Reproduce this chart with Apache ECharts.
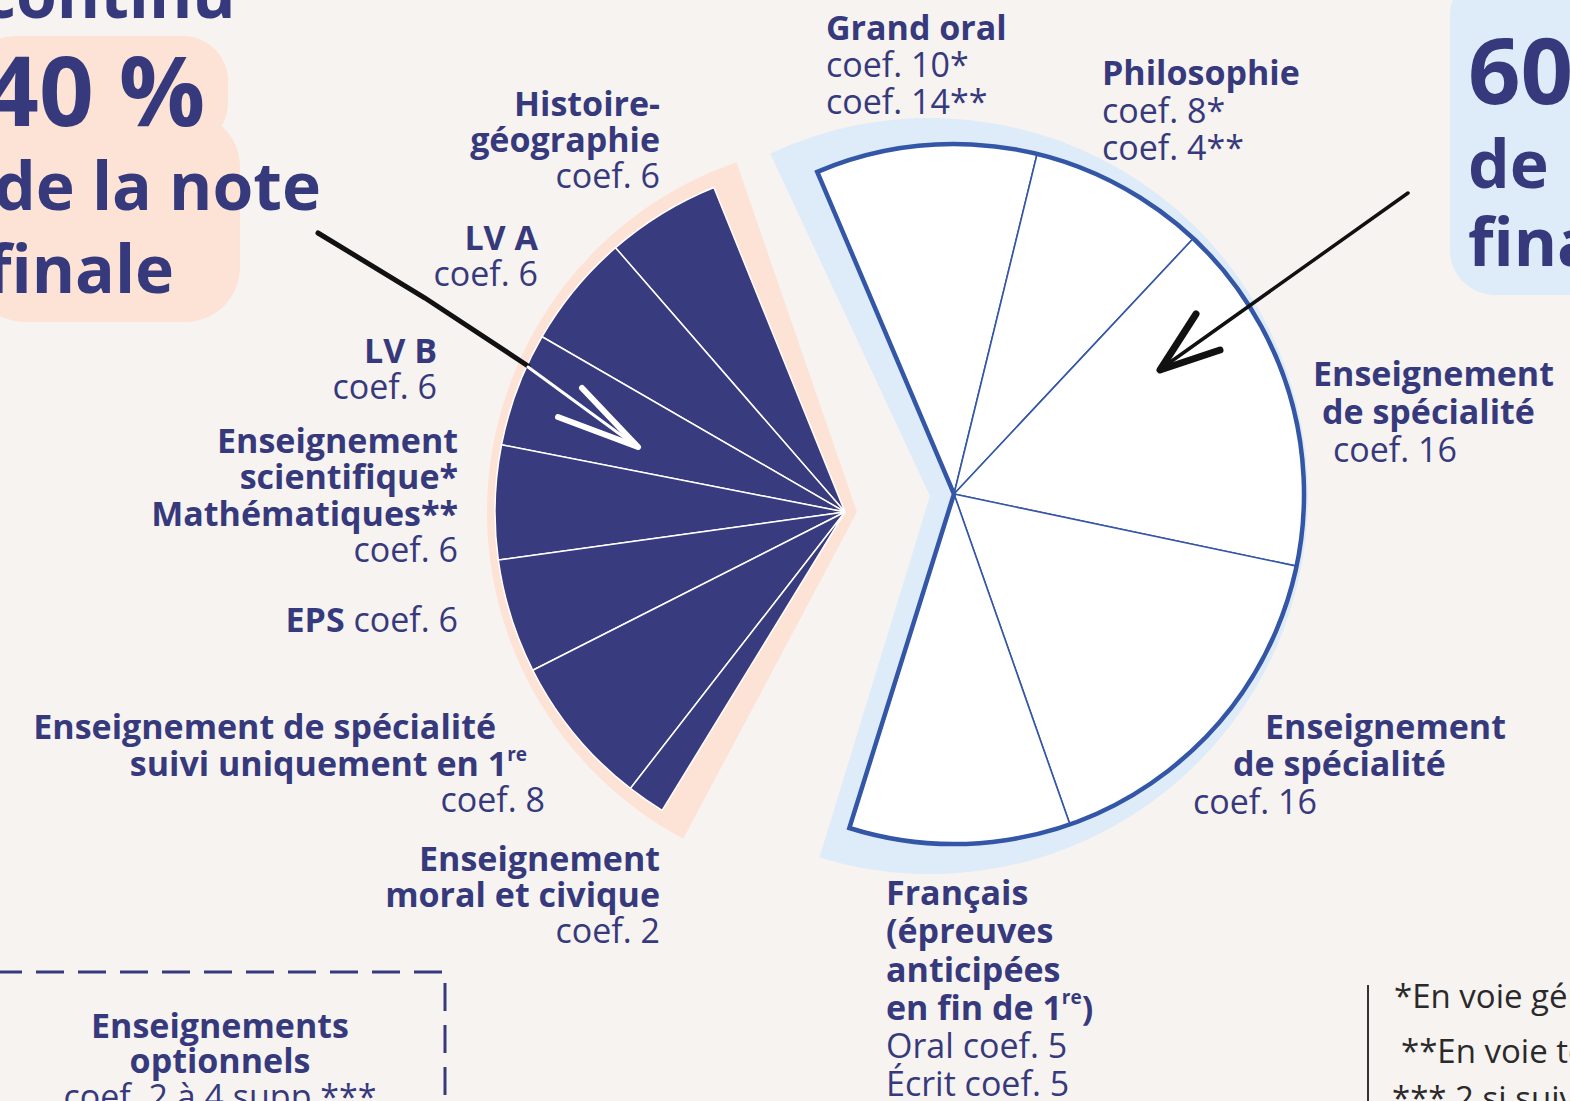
<!DOCTYPE html>
<html><head><meta charset="utf-8">
<script src="https://cdn.jsdelivr.net/npm/echarts@6/dist/echarts.min.js"></script>
<style>html,body{margin:0;padding:0;background:#f7f3f1;overflow:hidden}#c{width:1570px;height:1101px}</style>
</head><body><div id="c"></div>
<script>
// ---------- DATA ----------
const leftCategories = ['Histoire-géographie', 'LV A', 'LV B', 'Enseignement scientifique* / Mathématiques**', 'EPS', 'Enseignement de spécialité suivi uniquement en 1re', 'Enseignement moral et civique'];
const leftCoefs = [6, 6, 6, 6, 6, 8, 2];
const rightCategories = ['Grand oral', 'Philosophie', 'Enseignement de spécialité', 'Enseignement de spécialité', 'Français (épreuves anticipées en fin de 1re)'];
const rightCoefs = [10, 8, 16, 16, 10];

// label texts (rich-text markup: b = bold, r = regular, sup = superscript)
const leftLabelText = [
  '{b|Histoire-}\n{b|géographie}\n{r|coef. 6}',
  '{b|LV A}\n{r|coef. 6}',
  '{b|LV B}\n{r|coef. 6}',
  '{b|Enseignement}\n{b|scientifique*}\n{b|Mathématiques**}\n{r|coef. 6}',
  '{b|EPS}{r| coef. 6}',
  '{bR49|Enseignement de spécialité}\n{b|suivi uniquement en 1}{supR18|re}\n{r|coef. 8}',
  '{b|Enseignement}\n{b|moral et civique}\n{r|coef. 2}'
];
const rightLabelText = [
  '{b|Grand oral}\n{r|coef. 10*}\n{r|coef. 14**}',
  '{b|Philosophie}\n{r|coef. 8*}\n{r|coef. 4**}',
  '{b|Enseignement}\n{bL9|de spécialité}\n{rL20|coef. 16}',
  '{bL72|Enseignement}\n{bL40|de spécialité}\n{r|coef. 16}',
  '{b|Français}\n{b|(épreuves}\n{b|anticipées}\n{b|en fin de 1}{sup|re}{b|)}\n{r|Oral coef. 5}\n{r|Écrit coef. 5}'
];
const leftTitle = ['continu', '40 %', 'de la note', 'finale'];
const rightTitle = ['60 %', 'de la note', 'finale'];
const optionText = '{b|Enseignements}\n{b|optionnels}\n{r|coef. 2 à 4 supp.***}';
const footnotes = ['*En voie générale', '**En voie technologique', '*** 2 si suivi'];

// ---------- LAYOUT ----------
const FAM = "'Open Sans','Noto Sans',sans-serif";
const NAVY = '#363a7c';
const BLUE = '#3456a6';
const FS = 34;
// [x, align, top y of first line, line height]
const leftLabelPos = [
  [660, 'right', 85, 36], [538, 'right', 219, 36], [437, 'right', 332, 36], [458, 'right', 422, 36.3],
  [458, 'right', 601, 36], [545, 'right', 708, 36.5], [660, 'right', 840, 36]
];
const rightLabelPos = [
  [826, 'left', 8.5, 37], [1102, 'left', 53.5, 37.5], [1313, 'left', 354, 38], [1193, 'left', 707, 37.5], [886, 'left', 873, 38.2]
];

function makeRich(lh) {
  const st = (weight, extra) => Object.assign({ fontFamily: FAM, fontWeight: weight, fontSize: FS, lineHeight: lh, fill: NAVY }, extra || {});
  const supStyle = { fontFamily: FAM, fontWeight: 'bold', fontSize: 19, lineHeight: 22, fill: NAVY, verticalAlign: 'top' };
  return {
    b: st('bold'), r: st('normal'),
    bR49: st('bold', { padding: [0, 49, 0, 0] }),
    bL9: st('bold', { padding: [0, 0, 0, 9] }),
    rL20: st('normal', { padding: [0, 0, 0, 20] }),
    bL72: st('bold', { padding: [0, 0, 0, 72] }),
    bL40: st('bold', { padding: [0, 0, 0, 40] }),
    sup: supStyle,
    supR18: Object.assign({}, supStyle, { padding: [0, 18, 0, 0] })
  };
}

function richEl(x, y, text, align, lh) {
  return { type: 'text', x: x, y: y, z: 50, silent: true,
    style: { text: text, fill: NAVY, font: FS + 'px ' + FAM, align: align, verticalAlign: 'top', rich: makeRich(lh) } };
}
function textEl(x, y, text, weight, size, align, fill) {
  return { type: 'text', x: x, y: y, z: 50, silent: true,
    style: { text: text, fill: fill || NAVY, font: (weight === 'b' ? 'bold ' : '') + size + 'px ' + FAM, align: align, verticalAlign: 'middle' } };
}

const graphics = [];
// background brush patches
graphics.push({ type: 'rect', z: 0, silent: true, shape: { x: -30, y: 36, width: 258, height: 112, r: 45 }, style: { fill: '#fde3d6' } });
graphics.push({ type: 'rect', z: 0, silent: true, shape: { x: -30, y: 112, width: 270, height: 210, r: 55 }, style: { fill: '#fde3d6' } });
graphics.push({ type: 'rect', z: 0, silent: true, shape: { x: 1450, y: -30, width: 160, height: 325, r: 45 }, style: { fill: '#deebf8' } });

// titles
graphics.push(textEl(-18, -8, leftTitle[0], 'b', 66, 'left'));
graphics.push(textEl(-16, 88, leftTitle[1], 'b', 96, 'left'));
graphics.push(textEl(-6, 184, leftTitle[2], 'b', 66, 'left'));
graphics.push(textEl(-14, 267, leftTitle[3], 'b', 66, 'left'));
graphics.push(textEl(1468, 68, rightTitle[0], 'b', 92, 'left'));
graphics.push(textEl(1468, 162, rightTitle[1], 'b', 66, 'left'));
graphics.push(textEl(1468, 240, rightTitle[2], 'b', 66, 'left'));

leftLabelText.forEach((t, i) => { const p = leftLabelPos[i]; graphics.push(richEl(p[0], p[2], t, p[1], p[3])); });
rightLabelText.forEach((t, i) => { const p = rightLabelPos[i]; graphics.push(richEl(p[0], p[2], t, p[1], p[3])); });

// optional box
graphics.push(richEl(220, 1007, optionText, 'center', 35.5));
graphics.push({ type: 'polyline', z: 40, silent: true, shape: { points: [[-6, 972], [445, 972], [445, 1110]] }, style: { stroke: NAVY, lineWidth: 3, lineDash: [28, 14], fill: null } });

// footnotes
graphics.push({ type: 'line', z: 40, silent: true, shape: { x1: 1368, y1: 985, x2: 1368, y2: 1110 }, style: { stroke: '#333', lineWidth: 2 } });
const fnPos = [[1394, 995], [1401, 1050], [1392, 1097]];
footnotes.forEach((t, j) => graphics.push(textEl(fnPos[j][0], fnPos[j][1], t, 'r', 33, 'left', '#2a2a2a')));

// arrows
graphics.push({ type: 'polyline', z: 100, silent: true, shape: { points: [[318, 233], [425, 298], [528, 366]] }, style: { stroke: '#111', lineWidth: 5, lineCap: 'round', fill: null } });
graphics.push({ type: 'line', z: 100, silent: true, shape: { x1: 528, y1: 367, x2: 636, y2: 446 }, style: { stroke: '#fff', lineWidth: 3, lineCap: 'round' } });
graphics.push({ type: 'polyline', z: 100, silent: true, shape: { points: [[582, 388], [638, 447], [558, 417]] }, style: { stroke: '#fff', lineWidth: 6, lineCap: 'round', lineJoin: 'round', fill: null } });
graphics.push({ type: 'line', z: 100, silent: true, shape: { x1: 1408, y1: 193, x2: 1162, y2: 368 }, style: { stroke: '#111', lineWidth: 3.5, lineCap: 'round' } });
graphics.push({ type: 'polyline', z: 100, silent: true, shape: { points: [[1196, 314], [1160, 370], [1220, 350]] }, style: { stroke: '#111', lineWidth: 7, lineCap: 'round', lineJoin: 'round', fill: null } });

const sum = a => a.reduce((s, v) => s + v, 0);
const basePie = { type: 'pie', silent: true, animation: false, label: { show: false }, labelLine: { show: false }, emphasis: { disabled: true }, avoidLabelOverlap: false, minAngle: 0 };

const chart = echarts.init(document.getElementById('c'), null, { renderer: 'svg', width: 1570, height: 1101 });
chart.setOption({
  backgroundColor: '#f7f3f1',
  tooltip: { show: false },
  graphic: { elements: graphics },
  series: [
    Object.assign({}, basePie, { name: 'halo-left', z: 1, center: [857, 512], radius: 370, clockwise: false, startAngle: 109, endAngle: 242,
      data: [{ name: 'Contrôle continu', value: sum(leftCoefs) }], itemStyle: { color: '#fde3d6' } }),
    Object.assign({}, basePie, { name: 'halo-right', z: 1, center: [930, 496], radius: 378, clockwise: true, startAngle: 115, endAngle: -107,
      data: [{ name: 'Épreuves finales', value: sum(rightCoefs) }], itemStyle: { color: '#deebf8' } }),
    Object.assign({}, basePie, { name: 'Contrôle continu', z: 2, center: [845, 512], radius: 350, clockwise: false, startAngle: 112, endAngle: 238.5,
      data: leftCategories.map((n, i) => ({ name: n, value: leftCoefs[i] })),
      itemStyle: { color: '#383b7d', borderColor: '#ffffff', borderWidth: 1.5 } }),
    Object.assign({}, basePie, { name: 'Épreuves finales', z: 2, center: [954, 494], radius: 350, clockwise: true, startAngle: 113, endAngle: -107.4,
      data: rightCategories.map((n, i) => ({ name: n, value: rightCoefs[i] })),
      itemStyle: { color: '#ffffff', borderColor: BLUE, borderWidth: 1.6 } }),
    Object.assign({}, basePie, { name: 'outline', z: 3, center: [954, 494], radius: 350, clockwise: true, startAngle: 113, endAngle: -107.4,
      data: [{ name: 'total', value: sum(rightCoefs) }],
      itemStyle: { color: 'rgba(0,0,0,0)', borderColor: BLUE, borderWidth: 4.5, borderJoin: 'miter' } })
  ]
});
</script></body></html>
